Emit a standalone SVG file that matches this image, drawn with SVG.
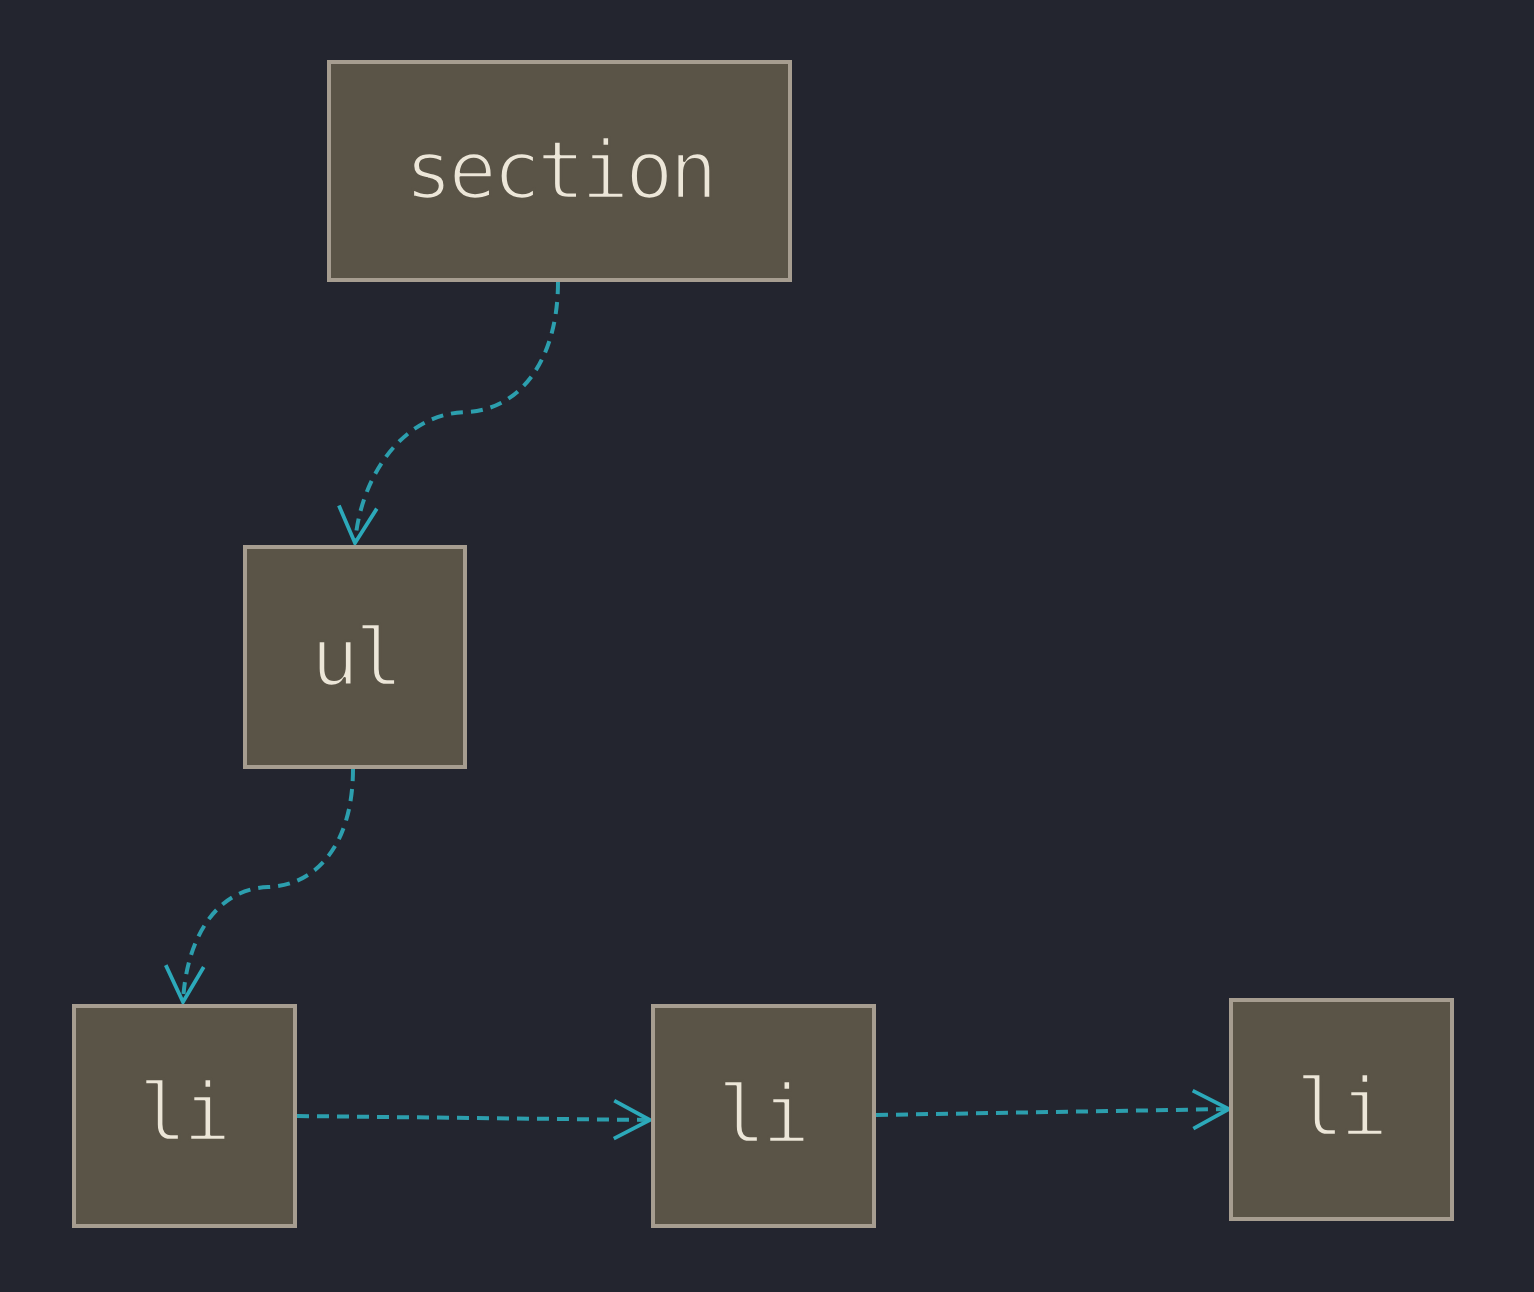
<svg xmlns="http://www.w3.org/2000/svg" width="1534" height="1292" viewBox="0 0 1534 1292">
  <style>
    .node rect { fill: #5a5447; stroke: #a69d90; stroke-width: 4; }
    /* thin the glyphs by overpainting their edges in the box colour */
    .node text { fill: #ece6d8; stroke: #5a5447; stroke-width: 2.6px; stroke-linejoin: round; paint-order: fill stroke; font-family: "DejaVu Sans Mono", "Liberation Mono", monospace; font-size: 80px; text-anchor: middle; letter-spacing: -4px; }
    .edge { fill: none; stroke: #2c9fae; stroke-width: 4; stroke-dasharray: 12 8; }
  </style>
  <defs>
    <marker id="arrow" markerUnits="userSpaceOnUse" viewBox="-40 -22 44 44" refX="0" refY="0" markerWidth="44" markerHeight="44" orient="auto">
      <path d="M-36,-19 L0,0 L-36,19" fill="none" stroke="#2ca9ba" stroke-width="3.8" stroke-linejoin="miter"/>
    </marker>
  </defs>
  <rect x="0" y="0" width="1534" height="1292" fill="#23252f"/>

  <g id="connectors">
    <path class="edge" d="M558,282 C558,360 520,410 466,412 C400,414 360,480 355,543" marker-end="url(#arrow)"/>
    <path class="edge" d="M353,769 C353,840 320,885 268,887 C215,889 186,940 183,1002" marker-end="url(#arrow)"/>
    <path class="edge" d="M297,1116 L650,1120" marker-end="url(#arrow)"/>
    <path class="edge" d="M876,1115 L1229,1109" marker-end="url(#arrow)"/>
  </g>

  <g id="node-section" class="node">
    <rect x="329" y="62" width="461" height="218"/>
    <text x="559" y="198">section</text>
  </g>
  <g id="node-ul" class="node">
    <rect x="245" y="547" width="220" height="220"/>
    <text x="355" y="685">ul</text>
  </g>
  <g id="node-li-1" class="node">
    <rect x="74" y="1006" width="221" height="220"/>
    <text x="183" y="1140">li</text>
  </g>
  <g id="node-li-2" class="node">
    <rect x="653" y="1006" width="221" height="220"/>
    <text x="762" y="1142">li</text>
  </g>
  <g id="node-li-3" class="node">
    <rect x="1231" y="1000" width="221" height="219"/>
    <text x="1340" y="1135">li</text>
  </g>
</svg>
